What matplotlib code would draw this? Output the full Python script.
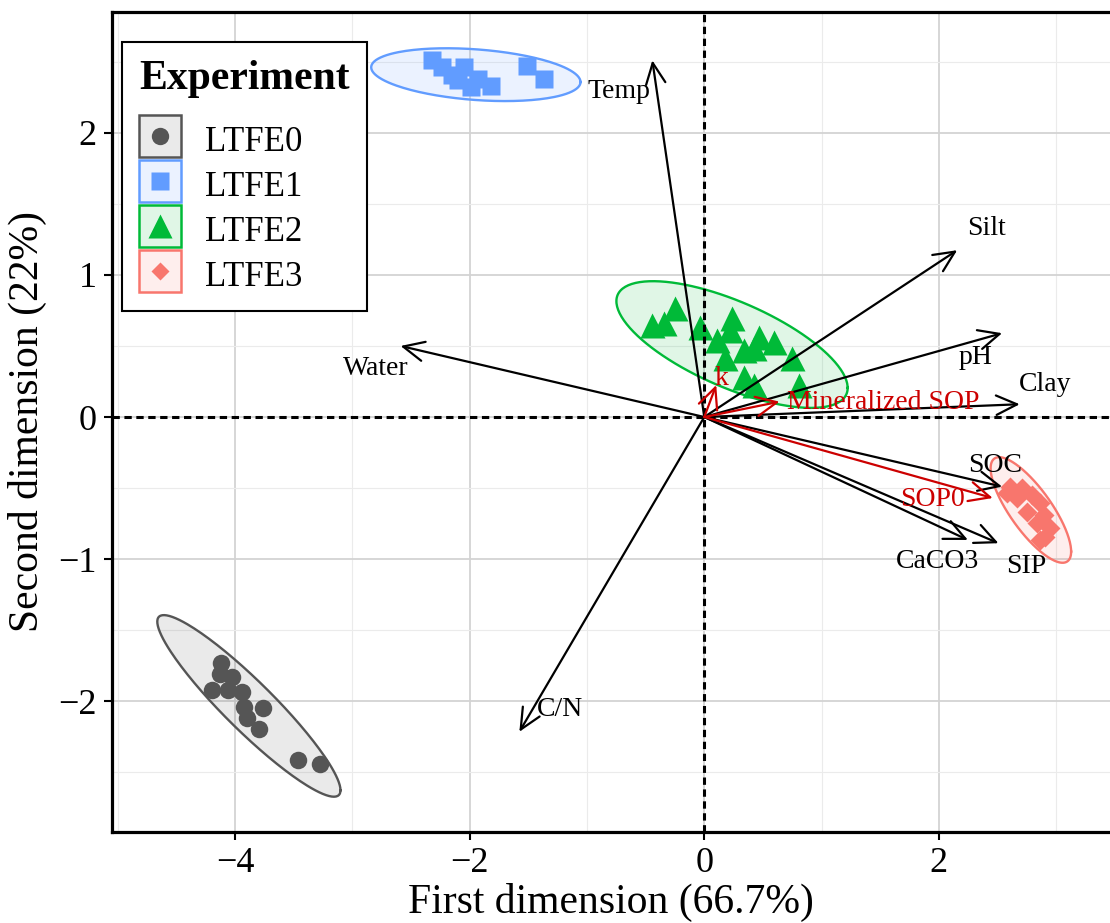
import numpy as np
import matplotlib
matplotlib.use("Agg")
import matplotlib.pyplot as plt
from matplotlib.patches import Patch, Rectangle
from matplotlib.lines import Line2D
from matplotlib.legend_handler import HandlerBase
from matplotlib.ticker import MultipleLocator

plt.rcParams['font.family'] = ['Liberation Serif', 'DejaVu Serif']

# ---------------- data ----------------
groups = ["LTFE0", "LTFE1", "LTFE2", "LTFE3"]

ltfe0_x = [-4.118, -4.132, -4.026, -4.197, -4.064, -3.941, -3.928, -3.766, -3.899, -3.794, -3.464, -3.274]
ltfe0_y = [-1.732, -1.807, -1.826, -1.920, -1.920, -1.932, -2.041, -2.049, -2.119, -2.196, -2.412, -2.440]

ltfe1_x = [-2.32, -2.24, -2.15, -2.05, -2.10, -1.93, -1.99, -1.82, -1.51, -1.37]
ltfe1_y = [2.51, 2.46, 2.41, 2.46, 2.37, 2.38, 2.32, 2.33, 2.47, 2.38]

ltfe2_x = [-0.446, -0.347, -0.247, -0.034, 0.108, 0.236, 0.222, 0.335, 0.463, 0.591, 0.420, 0.748, 0.804, 0.179, 0.335, 0.420]
ltfe2_y = [0.647, 0.659, 0.764, 0.635, 0.541, 0.694, 0.612, 0.471, 0.565, 0.530, 0.483, 0.413, 0.225, 0.413, 0.283, 0.225]

ltfe3_x = [2.609, 2.708, 2.666, 2.794, 2.864, 2.751, 2.893, 2.836, 2.950, 2.907, 2.581, 2.864]
ltfe3_y = [-0.490, -0.501, -0.572, -0.549, -0.607, -0.666, -0.689, -0.748, -0.783, -0.842, -0.537, -0.865]

# variable loadings (black)
var_names = ["Temp", "Silt", "pH", "Clay", "Water", "C/N", "SOC", "CaCO3", "SIP"]
var_x = [-0.443, 2.157, 2.54, 2.69, -2.59, -1.577, 2.54, 2.248, 2.509]
var_y = [2.51, 1.174, 0.59, 0.09, 0.50, -2.215, -0.49, -0.865, -0.888]
var_lab_x = [-0.725, 2.41, 2.31, 2.91, -2.80, -1.23, 2.48, 1.99, 2.75]
var_lab_y = [2.29, 1.33, 0.42, 0.23, 0.34, -2.06, -0.34, -1.02, -1.055]

# supplementary loadings (red)
sup_names = ["k", "Mineralized SOP", "SOP0"]
sup_x = [0.102, 0.642, 2.46]
sup_y = [0.225, 0.108, -0.57]
sup_lab_x = [0.15, 1.53, 1.95]
sup_lab_y = [0.27, 0.105, -0.58]

# ---------------- styling ----------------
colors = {"LTFE0": "#555555", "LTFE1": "#619CFF", "LTFE2": "#00BA38", "LTFE3": "#F8766D"}
markers = {"LTFE0": "o", "LTFE1": "s", "LTFE2": "^", "LTFE3": "D"}
msizes = {"LTFE0": 12.6, "LTFE1": 13.5, "LTFE2": 18, "LTFE3": 10.5}
leg_ms = {"LTFE0": 12.5, "LTFE1": 13.5, "LTFE2": 17, "LTFE3": 9.5}
red = "#CC0000"

data = {
    "LTFE0": (ltfe0_x, ltfe0_y),
    "LTFE1": (ltfe1_x, ltfe1_y),
    "LTFE2": (ltfe2_x, ltfe2_y),
    "LTFE3": (ltfe3_x, ltfe3_y),
}


def conf_ellipse(x, y, level=0.95, nseg=200):
    x = np.asarray(x); y = np.asarray(y)
    n = len(x)
    d = n - 1
    q = d / 2.0 * ((1 - level) ** (-2.0 / d) - 1)  # F(2, d) quantile
    r = np.sqrt(2 * q)
    cov = np.cov(x, y)
    L = np.linalg.cholesky(cov)
    t = np.linspace(0, 2 * np.pi, nseg)
    circ = np.vstack([np.cos(t), np.sin(t)])
    pts = np.array([[x.mean()], [y.mean()]]) + r * (L @ circ)
    return pts[0], pts[1]


KEY_PT = 30.0  # legend key square size in points


class KeyHandler(HandlerBase):
    def __init__(self, color, marker, ms):
        super().__init__()
        self.color = color
        self.marker = marker
        self.ms = ms

    def create_artists(self, legend, orig_handle, xdescent, ydescent,
                       width, height, fontsize, trans):
        cx = -xdescent + width / 2
        cy = -ydescent + (height + ydescent) / 2
        rect = Rectangle((cx - KEY_PT / 2, cy - KEY_PT / 2), KEY_PT, KEY_PT,
                         facecolor=matplotlib.colors.to_rgba(self.color, 0.12),
                         edgecolor=self.color, lw=1.8, transform=trans)
        pt = Line2D([cx], [cy], marker=self.marker, ms=self.ms, color=self.color,
                    mec='none', linestyle='none', transform=trans)
        return [rect, pt]


fig = plt.figure(figsize=(11.10, 9.23), dpi=100)
ax = fig.add_axes([0.101, 0.0986, 0.899, 0.8884])

ax.set_xlim(-5.05, 3.46)
ax.set_ylim(-2.92, 2.85)

ax.xaxis.set_major_locator(MultipleLocator(2))
ax.xaxis.set_minor_locator(MultipleLocator(1))
ax.yaxis.set_major_locator(MultipleLocator(1))
ax.yaxis.set_minor_locator(MultipleLocator(0.5))
ax.grid(which='major', color='#d3d3d3', lw=1.3, zorder=0)
ax.grid(which='minor', color='#ebebeb', lw=0.8, zorder=0)
ax.set_axisbelow(True)
ax.tick_params(which='minor', length=0)
ax.tick_params(which='major', length=6, width=1.5, color='black', labelsize=26, pad=5)

for s in ['left', 'bottom', 'top']:
    ax.spines[s].set_linewidth(2.3)
ax.spines['right'].set_visible(False)

for g in groups:
    x, y = data[g]
    ex, ey = conf_ellipse(x, y)
    ax.fill(ex, ey, facecolor=colors[g], alpha=0.12, edgecolor='none', zorder=1)
    ax.plot(ex, ey, color=colors[g], lw=1.7, zorder=2)
    ax.plot(x, y, linestyle='none', marker=markers[g], ms=msizes[g],
            color=colors[g], mec='none', zorder=3)

ax.axhline(0, color='black', lw=2.2, ls=(0, (2.4, 1.5)), zorder=4)
ax.axvline(0, color='black', lw=2.2, ls=(0, (2.4, 1.5)), zorder=4)

aprops = dict(arrowstyle='->,head_length=0.75,head_width=0.35', lw=1.6,
              shrinkA=0, shrinkB=0, mutation_scale=20)
for name, x, y, lx, ly in zip(var_names, var_x, var_y, var_lab_x, var_lab_y):
    ax.annotate("", xy=(x, y), xytext=(0, 0),
                arrowprops=dict(color='black', **aprops), zorder=5)
    ax.text(lx, ly, name, fontsize=20, ha='center', va='center', color='black', zorder=6)

for name, x, y, lx, ly in zip(sup_names, sup_x, sup_y, sup_lab_x, sup_lab_y):
    ax.annotate("", xy=(x, y), xytext=(0, 0),
                arrowprops=dict(color=red, **aprops), zorder=5)
    ax.text(lx, ly, name, fontsize=20, ha='center', va='center', color=red, zorder=6)

ax.set_xlabel("First dimension (66.7%)", fontsize=30, labelpad=2)
ax.set_ylabel("Second dimension (22%)", fontsize=30, labelpad=8)

handles = [Patch(label=g) for g in groups]
hmap = {h: KeyHandler(colors[g], markers[g], leg_ms[g]) for h, g in zip(handles, groups)}

leg = ax.legend(handles, groups, title="Experiment", loc='upper left',
                bbox_to_anchor=(0.01, 0.963), borderaxespad=0,
                handler_map=hmap, alignment='left',
                fontsize=25, title_fontproperties={'weight': 'bold', 'size': 30},
                handlelength=1.2, handleheight=1.24, labelspacing=0.2,
                handletextpad=0.7, borderpad=0.5, fancybox=False, framealpha=1,
                edgecolor='black')
leg._legend_box.sep = 17
leg.get_frame().set_linewidth(1.5)
leg.set_zorder(10)

fig.savefig("out.png", dpi=100)
